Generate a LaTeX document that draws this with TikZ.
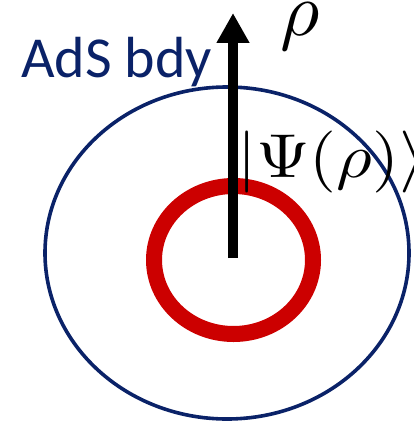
\documentclass[tikz,border=0pt]{standalone}
\usepackage{fontspec}
\newfontfamily\adsfont{Carlito}
\usepackage{xcolor}
\definecolor{adsNavy}{RGB}{10,34,104}
\definecolor{adsRed}{RGB}{204,0,0}
\usetikzlibrary{arrows.meta}

\begin{document}
\begin{tikzpicture}[x=1pt,y=-1pt,
  bd/.style={draw=adsNavy,line width=3.6pt},
  hz/.style={draw=adsRed,line width=16pt},
  a/.style={-{Triangle[length=30pt,width=31pt]},line width=10pt},
  lb/.style={inner sep=0pt,anchor=base west}]
  \useasboundingbox (0,0) rectangle (413,422);
  \clip (0,0) rectangle (413,422);

  \coordinate (ctr) at (233,258);
  \coordinate (tip) at (233,13);

  % boundary and horizon
  \draw[bd] (227,253) ellipse [x radius=182,y radius=166];
  \draw[hz] (233.5,260) ellipse [x radius=79.5,y radius=74];

  \draw[a] (ctr) -- (tip);

  \node[lb,text=adsNavy,font=\adsfont\fontsize{58}{62}\selectfont] (bdy) at (21,78) {AdS bdy};
  \node[lb] (rho) at (280,36) {\scalebox{7.6}{$\rho$}};
  \node[lb] (psi) at (237,177) {\scalebox{6.9}[6.2]{$|\Psi(\rho)\rangle$}};
\end{tikzpicture}
\end{document}
